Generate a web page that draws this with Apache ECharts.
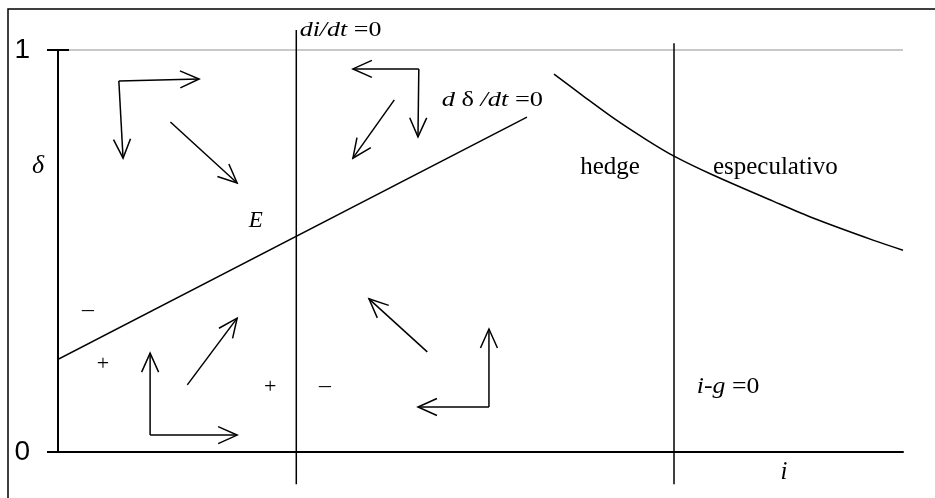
<!DOCTYPE html>
<html>
<head>
<meta charset="utf-8">
<script src="https://cdn.jsdelivr.net/npm/echarts@6/dist/echarts.min.js"></script>
<style>
  html, body { margin: 0; padding: 0; background: #fff; overflow: hidden; }
  #chart { width: 935px; height: 498px; }
</style>
</head>
<body>
<div id="chart"></div>
<script>
// Phase diagram: interest rate i (horizontal) against delta (vertical)

// y-axis tick labels
const deltaTicks = { 0: '0', 1: '1' };

// hedge / speculative frontier (decreasing curve)
const frontierI     = [58.70, 62.13, 65.92, 69.70, 72.90, 77.51, 84.62, 89.35, 96.45, 100];
const frontierDelta = [0.940, 0.886, 0.828, 0.776, 0.736, 0.689, 0.624, 0.582, 0.527, 0.502];

// d(delta)/dt = 0 locus (straight line)
const deltaLocusI     = [-1.07, 55.5];
const deltaLocusDelta = [0.219, 0.833];

// di/dt = 0 locus (vertical)
const iLocusI     = [28.2, 28.2];
const iLocusDelta = [-0.080, 1.050];

// i - g = 0 (vertical)
const igI     = [72.9, 72.9];
const igDelta = [-0.080, 1.017];

// direction-of-motion arrows: [i start, delta start, i end, delta end]
const arrows = [
  [7.2, 0.923, 16.7, 0.928],
  [7.2, 0.923, 7.7, 0.731],
  [13.3, 0.821, 21.2, 0.669],
  [42.7, 0.953, 34.9, 0.953],
  [42.7, 0.953, 42.6, 0.784],
  [39.8, 0.876, 34.9, 0.731],
  [10.9, 0.042, 10.9, 0.246],
  [10.9, 0.042, 21.2, 0.042],
  [15.3, 0.167, 21.2, 0.333],
  [51.0, 0.112, 51.0, 0.306],
  [51.0, 0.112, 42.6, 0.112],
  [43.7, 0.249, 36.8, 0.381]
];

// annotations: text and anchor point (i, delta)
const noteTexts = ['{it|δ}', '{it|di/dt} =0', '{it|d} δ {it|/dt} =0', 'hedge', 'especulativo',
                   '{it|E}', '{it|i-g} =0', '{it|i}', '−', '+', '+', '−'];
const noteI     = [-2.37, 28.6, 45.4, 61.8, 77.5, 23.4, 75.6, 85.9, 3.55, 5.33, 25.1, 31.6];
const noteDelta = [0.711, 1.048, 0.876, 0.709, 0.709, 0.575, 0.162, -0.052, 0.348, 0.219, 0.162, 0.159];

// rendering style for each annotation
const noteStyle = [
  { size: 26, align: 'center', sx: 1 },
  { size: 22, align: 'left', sx: 1.18 },
  { size: 22, align: 'left', sx: 1.2 },
  { size: 25, align: 'left', sx: 1 },
  { size: 25, align: 'left', sx: 1 },
  { size: 23, align: 'center', sx: 1 },
  { size: 23, align: 'left', sx: 1.12 },
  { size: 25, align: 'center', sx: 1 },
  { size: 22, align: 'center', sx: 1.2 },
  { size: 22, align: 'center', sx: 1 },
  { size: 22, align: 'center', sx: 1 },
  { size: 22, align: 'center', sx: 1.2 }
];

const SERIF = '"Liberation Serif", "Times New Roman", serif';
const INK = '#000';

function zip(a, b) { return a.map((v, k) => [v, b[k]]); }

function lineSeries(xs, ys, extra) {
  return Object.assign({
    type: 'line',
    data: zip(xs, ys),
    symbol: 'none',
    clip: false,
    silent: true,
    lineStyle: { color: INK, width: 1.5 }
  }, extra || {});
}

const chart = echarts.init(document.getElementById('chart'), null, { renderer: 'canvas' });

const option = {
  animation: false,
  backgroundColor: '#fff',
  graphic: [{
    type: 'polyline',
    shape: { points: [[8, 600], [8, 9], [1000, 9]] },
    style: { fill: null, stroke: INK, lineWidth: 1.5 },
    silent: true
  }],
  grid: { left: 58, right: 32, top: 50, bottom: 46 },
  xAxis: {
    type: 'value', min: 0, max: 100,
    axisLine: { show: true, onZero: false, lineStyle: { color: INK, width: 2 } },
    axisTick: { show: false },
    axisLabel: { show: false },
    splitLine: { show: false }
  },
  yAxis: [{
    type: 'value', min: 0, max: 1, interval: 1,
    axisLine: { show: true, lineStyle: { color: INK, width: 2 } },
    axisTick: { show: true, length: 11, lineStyle: { color: INK, width: 2 } },
    axisLabel: {
      formatter: v => deltaTicks[v],
      fontFamily: '"Liberation Sans", Arial, sans-serif',
      fontSize: 28, color: INK, margin: 28
    },
    splitLine: { show: true, lineStyle: { color: '#c8c8c8', width: 2 } }
  }, {
    type: 'value', min: 0, max: 1, interval: 1, position: 'left',
    axisLine: { show: false },
    axisTick: { show: true, inside: true, length: 11, lineStyle: { color: INK, width: 2 } },
    axisLabel: { show: false },
    splitLine: { show: false }
  }],
  series: [
    lineSeries(frontierI, frontierDelta, { smooth: 0.3 }),
    lineSeries(deltaLocusI, deltaLocusDelta),
    lineSeries(iLocusI, iLocusDelta),
    lineSeries(igI, igDelta),
    {
      type: 'custom',
      silent: true,
      clip: false,
      data: arrows,
      encode: { x: [0, 2], y: [1, 3] },
      renderItem: function (params, api) {
        const p0 = api.coord([api.value(0), api.value(1)]);
        const p1 = api.coord([api.value(2), api.value(3)]);
        const dx = p1[0] - p0[0], dy = p1[1] - p0[1];
        const len = Math.sqrt(dx * dx + dy * dy) || 1;
        const ux = dx / len, uy = dy / len;
        const L = 19, W = 8.5;
        const bx = p1[0] - ux * L, by = p1[1] - uy * L;
        const style = { stroke: INK, lineWidth: 1.5, fill: null };
        return {
          type: 'group',
          children: [
            { type: 'line', shape: { x1: p0[0], y1: p0[1], x2: p1[0], y2: p1[1] }, style: style },
            { type: 'polyline', shape: { points: [[bx - uy * W, by + ux * W], p1, [bx + uy * W, by - ux * W]] }, style: style }
          ]
        };
      }
    },
    {
      type: 'custom',
      silent: true,
      clip: false,
      data: zip(noteI, noteDelta),
      encode: { x: 0, y: 1 },
      renderItem: function (params, api) {
        const k = params.dataIndex;
        const st = noteStyle[k];
        const p = api.coord([api.value(0), api.value(1)]);
        return {
          type: 'text',
          x: p[0], y: p[1],
          scaleX: st.sx,
          style: {
            text: noteTexts[k],
            fontFamily: SERIF,
            fontSize: st.size,
            fill: INK,
            align: st.align,
            verticalAlign: 'middle',
            rich: {
              it: { fontFamily: SERIF, fontSize: st.size, fontStyle: 'italic', fill: INK }
            }
          }
        };
      }
    }
  ]
};

chart.setOption(option);
</script>
</body>
</html>
